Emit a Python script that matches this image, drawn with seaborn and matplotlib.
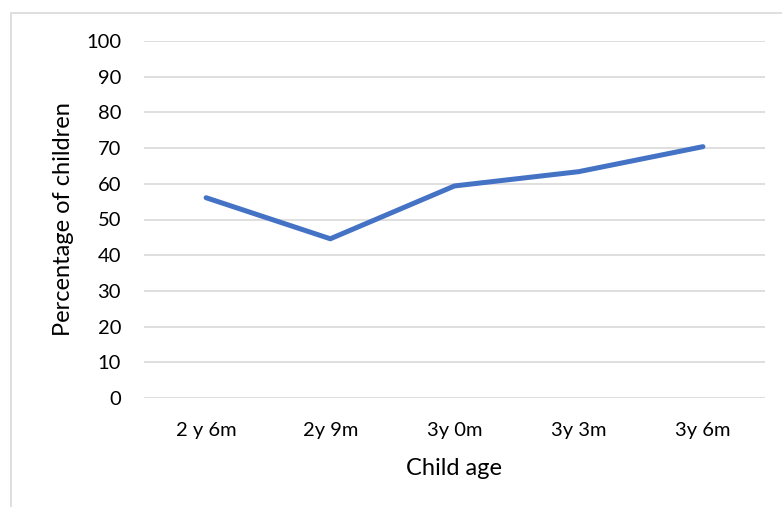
import matplotlib
matplotlib.use("Agg")
import matplotlib.pyplot as plt
from matplotlib.patches import Rectangle
import seaborn as sns
import pandas as pd

ages = ["2 y 6m", "2y 9m", "3y 0m", "3y 3m", "3y 6m"]
percent = [56.1, 44.6, 59.4, 63.4, 70.4]
y_ticks = [0, 10, 20, 30, 40, 50, 60, 70, 80, 90, 100]

sns.set_theme(style="white")
plt.rcParams["font.family"] = ["Lato", "DejaVu Sans"]

df = pd.DataFrame({"age": ages, "percent": percent})

fig = plt.figure(figsize=(7.82, 5.07), dpi=100)
ax = fig.add_axes([144 / 782, 109 / 507, (765 - 144) / 782, (398 - 41) / 507])

sns.lineplot(data=df, x="age", y="percent", sort=False, ax=ax,
             color="#4472C4", linewidth=3.6, solid_capstyle="round",
             solid_joinstyle="round")

ax.set_xlim(-0.5, len(ages) - 0.5)
ax.set_ylim(0, 100)
ax.set_yticks(y_ticks)
ax.set_yticklabels([str(t) for t in y_ticks])
ax.yaxis.grid(True, color="#D9D9D9", linewidth=1.2)
ax.set_axisbelow(True)
for s in ax.spines.values():
    s.set_visible(False)
ax.tick_params(axis="both", length=0, labelsize=14.5, labelcolor="black")
ax.tick_params(axis="y", pad=16.5)
ax.tick_params(axis="x", pad=17)

ax.set_xlabel("Child age", fontsize=17, labelpad=14, color="black")
ax.set_ylabel("Percentage of children", fontsize=17, labelpad=8.5, color="black")

# outer chart frame
fig.patches.append(Rectangle((10.5 / 782, -0.1), 1.2, 1 - 12.5 / 507 + 0.1,
                             transform=fig.transFigure, fill=False,
                             edgecolor="#D9D9D9", linewidth=1.2))

fig.savefig("out.png", dpi=100)
